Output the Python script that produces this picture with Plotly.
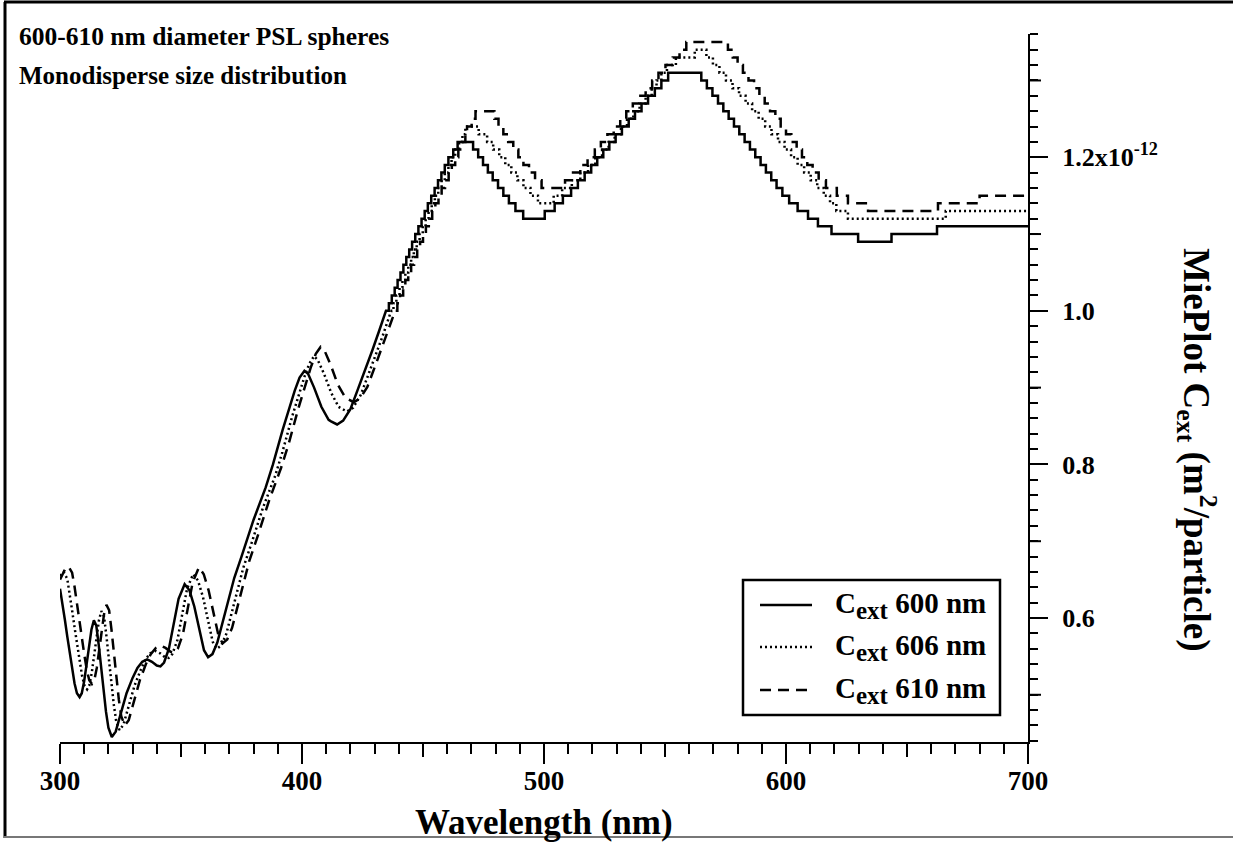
import plotly.graph_objects as go

# ---------------- data (values in units of 1e-12 m^2) ----------------
# smooth part (below 1.0e-12, three significant digits -> smooth)
x600_smooth = [300, 301, 302, 303, 304, 305, 306, 307, 308.1, 309, 310, 311, 312, 313, 314, 315, 316, 317, 318, 319,
               320, 321.4, 323, 325, 327.5, 330, 332, 334, 336, 338, 340, 341.5, 343, 345, 347, 349, 351.5, 353.5,
               355.5, 357.5, 359.5, 361.2, 363, 365, 367, 369, 372, 375, 380, 385, 388, 392, 395, 397, 399, 401,
               402.5, 405, 408, 411, 412, 414.5, 417, 420, 423, 426, 429, 432, 434.7]
y600_smooth = [0.638, 0.620, 0.598, 0.576, 0.555, 0.533, 0.515, 0.502, 0.497, 0.502, 0.518, 0.540, 0.563, 0.585,
               0.597, 0.590, 0.565, 0.535, 0.503, 0.478, 0.457, 0.445, 0.452, 0.475, 0.502, 0.522, 0.535, 0.543,
               0.546, 0.543, 0.538, 0.537, 0.542, 0.560, 0.592, 0.625, 0.644, 0.636, 0.615, 0.585, 0.558, 0.549,
               0.553, 0.568, 0.592, 0.617, 0.652, 0.680, 0.728, 0.770, 0.800, 0.845, 0.876, 0.896, 0.913, 0.922,
               0.918, 0.900, 0.875, 0.858, 0.856, 0.852, 0.857, 0.872, 0.897, 0.922, 0.948, 0.975, 0.998]

x606_smooth = [300, 301.5, 303, 304, 305, 306, 307, 308, 309.1, 310.1, 311.2, 312.1, 313.1, 314.1, 315.1, 316.1,
               317.1, 318.2, 319.2, 320.2, 321.2, 322.2, 323.2, 324.6, 326.2, 328.3, 330.8, 333.3, 335.3, 337.3,
               339.4, 341.4, 343.4, 344.9, 346.4, 348.5, 350.5, 352.5, 355, 357, 359.1, 361.1, 363.1, 364.8, 366.6,
               368.7, 370.7, 372.7, 375.7, 378.8, 383.8, 388.9, 391.9, 395.9, 399, 401, 403, 405, 406.5, 409.1,
               412.1, 415.1, 416.1, 418.6, 421.2, 424.2, 427.2, 430.3, 433.3, 436.3]
y606_smooth = [0.655, 0.660, 0.651, 0.632, 0.610, 0.588, 0.566, 0.544, 0.525, 0.512, 0.507, 0.512, 0.528, 0.551,
               0.574, 0.597, 0.609, 0.602, 0.576, 0.546, 0.513, 0.488, 0.466, 0.454, 0.461, 0.485, 0.512, 0.532,
               0.546, 0.554, 0.557, 0.554, 0.549, 0.548, 0.553, 0.571, 0.604, 0.638, 0.657, 0.649, 0.627, 0.597,
               0.569, 0.560, 0.564, 0.579, 0.604, 0.629, 0.665, 0.694, 0.743, 0.785, 0.816, 0.862, 0.894, 0.914,
               0.931, 0.941, 0.936, 0.918, 0.893, 0.875, 0.873, 0.869, 0.874, 0.890, 0.915, 0.941, 0.967, 0.995]

x610_smooth = [300, 302, 303.5, 305, 306, 307, 308.1, 309.1, 310.1, 311.1, 312.1, 313.2, 314.2, 315.2, 316.2, 317.2,
               318.2, 319.2, 320.3, 321.3, 322.3, 323.3, 324.3, 325.3, 326.8, 328.4, 330.4, 333, 335.5, 337.5,
               339.6, 341.6, 343.6, 345.7, 347.2, 348.7, 350.8, 352.8, 354.8, 357.4, 359.4, 361.4, 363.5, 365.5,
               367.2, 369.1, 371.1, 373.1, 375.2, 378.2, 381.3, 386.3, 391.4, 394.5, 398.5, 401.6, 403.6, 405.7,
               407.7, 409.2, 411.8, 414.8, 417.9, 418.9, 421.4, 424, 427, 430.1, 433.1, 436.2, 438.2]
y610_smooth = [0.650, 0.663, 0.667, 0.659, 0.641, 0.618, 0.595, 0.574, 0.551, 0.532, 0.519, 0.514, 0.519, 0.535,
               0.558, 0.582, 0.605, 0.617, 0.610, 0.584, 0.553, 0.520, 0.494, 0.472, 0.460, 0.467, 0.491, 0.519,
               0.540, 0.553, 0.561, 0.564, 0.561, 0.556, 0.555, 0.560, 0.579, 0.612, 0.646, 0.666, 0.657, 0.636,
               0.605, 0.577, 0.567, 0.572, 0.587, 0.612, 0.638, 0.674, 0.703, 0.752, 0.796, 0.827, 0.873, 0.905,
               0.926, 0.944, 0.953, 0.949, 0.930, 0.904, 0.887, 0.885, 0.881, 0.886, 0.901, 0.927, 0.953, 0.980,
               0.997]

# stepped part (above 1.0e-12 the MiePlot output is rounded to 0.01e-12): wavelength where each level starts
x600_steps = [434.7, 435.9, 437.1, 438.3, 439.5, 440.7, 441.9, 443.1, 444.3, 445.5, 446.8, 448.1, 449.4, 450.7,
              452.0, 453.4, 454.8, 456.2, 457.6, 459.0, 460.5, 462.5, 464.3,
              470.7, 472.8, 474.8, 476.8, 478.8, 481.0, 483.2, 485.5, 488.2, 491.4,
              500.3, 504.4, 507.8, 511.2, 514.0, 516.8, 519.5, 522.0, 524.5, 527.0, 529.6, 532.2, 535.0, 537.6,
              540.3, 543.0, 545.8, 548.5, 551.3,
              565.0, 567.3, 569.6, 571.9, 574.1, 576.3, 578.5, 580.7, 582.9, 585.1, 587.3, 589.5, 591.7, 593.9,
              596.1, 598.5, 601.3, 604.8, 609.1, 613.2, 618.8, 629.8, 643.6, 662.4]
y600_steps = [1.00, 1.01, 1.02, 1.03, 1.04, 1.05, 1.06, 1.07, 1.08, 1.09, 1.10, 1.11, 1.12, 1.13,
              1.14, 1.15, 1.16, 1.17, 1.18, 1.19, 1.20, 1.21, 1.22,
              1.21, 1.20, 1.19, 1.18, 1.17, 1.16, 1.15, 1.14, 1.13, 1.12,
              1.13, 1.14, 1.15, 1.16, 1.17, 1.18, 1.19, 1.20, 1.21, 1.22, 1.23, 1.24, 1.25, 1.26,
              1.27, 1.28, 1.29, 1.30, 1.31,
              1.30, 1.29, 1.28, 1.27, 1.26, 1.25, 1.24, 1.23, 1.22, 1.21, 1.20, 1.19, 1.18, 1.17,
              1.16, 1.15, 1.14, 1.13, 1.12, 1.11, 1.10, 1.09, 1.10, 1.11]

x606_steps = [437.0, 437.8, 439.0, 440.3, 441.5, 442.7, 443.9, 445.1, 446.2, 447.4, 448.6, 449.9, 451.1, 452.3,
              453.6, 454.9, 456.3, 457.7, 459.0, 460.5, 461.8, 463.3, 464.9, 466.3, 467.5,
              473.0, 476.5, 479.0, 481.5, 484.0, 486.5, 489.0, 491.5, 494.4, 497.5,
              504.0, 507.5, 511.5, 515.0, 518.2, 521.2, 524.0, 526.7, 529.2, 531.8, 534.3, 536.9, 539.5, 542.0,
              544.5, 546.5, 548.5, 550.8, 554.5, 562.3,
              567.1, 569.8, 572.5, 575.2, 577.9, 580.6, 583.3, 586.0, 588.7, 591.4, 594.0, 596.7, 599.4, 602.1,
              604.8, 607.5, 610.2, 612.9, 615.6, 618.2, 620.8, 625.6, 666.0]
y606_steps = [1.00, 1.01, 1.02, 1.03, 1.04, 1.05, 1.06, 1.07, 1.08, 1.09, 1.10, 1.11, 1.12, 1.13,
              1.14, 1.15, 1.16, 1.17, 1.18, 1.19, 1.20, 1.21, 1.22, 1.23, 1.24,
              1.23, 1.22, 1.21, 1.20, 1.19, 1.18, 1.17, 1.16, 1.15, 1.14,
              1.15, 1.16, 1.17, 1.18, 1.19, 1.20, 1.21, 1.22, 1.23, 1.24, 1.25, 1.26, 1.27, 1.28,
              1.29, 1.30, 1.31, 1.32, 1.33, 1.34,
              1.33, 1.32, 1.31, 1.30, 1.29, 1.28, 1.27, 1.26, 1.25, 1.24, 1.23, 1.22, 1.21, 1.20,
              1.19, 1.18, 1.17, 1.16, 1.15, 1.14, 1.13, 1.12, 1.13]

x610_steps = [438.5, 439.4, 440.5, 441.8, 442.7, 443.9, 445.1, 446.3, 447.6, 448.8, 450.0, 451.2, 452.4, 453.8,
              455.1, 456.4, 457.7, 459.1, 460.6, 461.9, 463.3, 464.6, 466.1, 467.5, 468.2, 470.1, 471.7,
              479.5, 481.2, 483.2, 485.2, 487.3, 489.4, 491.5, 493.8, 496.3, 499.0,
              508.7, 512.0, 515.0, 518.0, 521.0, 523.5, 526.2, 528.8, 531.5, 534.0, 536.7, 539.3, 542.0, 544.7,
              547.3, 550.2, 553.2, 556.0, 558.8,
              576.0, 578.0, 580.0, 582.2, 584.5, 586.8, 589.0, 591.2, 593.4, 595.6, 597.8, 600.0, 602.2, 604.4,
              606.6, 608.8, 611.0, 613.5, 616.5, 621.0, 625.6, 633.9, 662.8, 680.0]
y610_steps = [1.00, 1.01, 1.02, 1.03, 1.04, 1.05, 1.06, 1.07, 1.08, 1.09, 1.10, 1.11, 1.12, 1.13,
              1.14, 1.15, 1.16, 1.17, 1.18, 1.19, 1.20, 1.21, 1.22, 1.23, 1.24, 1.25, 1.26,
              1.25, 1.24, 1.23, 1.22, 1.21, 1.20, 1.19, 1.18, 1.17, 1.16,
              1.17, 1.18, 1.19, 1.20, 1.21, 1.22, 1.23, 1.24, 1.25, 1.26, 1.27, 1.28, 1.29, 1.30,
              1.31, 1.32, 1.33, 1.34, 1.35,
              1.34, 1.33, 1.32, 1.31, 1.30, 1.29, 1.28, 1.27, 1.26, 1.25, 1.24, 1.23, 1.22, 1.21,
              1.20, 1.19, 1.18, 1.17, 1.16, 1.15, 1.14, 1.13, 1.14, 1.15]

series_labels = ["600 nm", "606 nm", "610 nm"]
x_ticks = [300, 400, 500, 600, 700]
y_tick_vals = [0.6, 0.8, 1.0, 1.2]
y_tick_text = ["0.6", "0.8", "1.0", "1.2x10<sup>-12</sup>"]
X_END = 700

# ---------------- helpers ----------------
def build(xs, ys, sx, sy):
    X, Y = list(xs), list(ys)
    prev = None
    for x, v in zip(sx, sy):
        if prev is not None:
            X.append(x); Y.append(prev)
        X.append(x); Y.append(v)
        prev = v
    X.append(X_END); Y.append(prev)
    return X, Y

FONT = "Liberation Serif"
DASHES = ["solid", "2px,3px", "11px,7px"]
LW = 2.5

fig = go.Figure()
data = [(x600_smooth, y600_smooth, x600_steps, y600_steps),
        (x606_smooth, y606_smooth, x606_steps, y606_steps),
        (x610_smooth, y610_smooth, x610_steps, y610_steps)]
for (xs, ys, sx, sy), lab, dash in zip(data, series_labels, DASHES):
    X, Y = build(xs, ys, sx, sy)
    fig.add_trace(go.Scatter(x=X, y=Y, mode="lines", name="C<sub>ext</sub> " + lab, showlegend=False,
                             line=dict(color="black", width=LW, dash=dash)))

# plot geometry in pixels
W, H = 1233, 845
L, R, T, B = 60, 205, 34, 103
PW, PH = W - L - R, H - T - B

def px(xp):
    return (xp - L) / PW

def py(yp):
    return (H - B - yp) / PH

shapes = []
# medium ticks
for xv in [350, 450, 550, 650]:
    shapes.append(dict(type="line", xref="x", yref="paper", x0=xv, x1=xv, y0=0, y1=-15 / PH,
                       line=dict(color="black", width=2)))
for yv in [0.5, 0.7, 0.9, 1.1, 1.3]:
    shapes.append(dict(type="line", xref="paper", yref="y", x0=1, x1=1 + 13 / PW, y0=yv, y1=yv,
                       line=dict(color="black", width=2)))
# outer frame (left, top, bottom)
shapes.append(dict(type="line", xref="paper", yref="paper", x0=px(5), x1=px(5), y0=py(838), y1=py(2),
                   line=dict(color="black", width=3)))
shapes.append(dict(type="line", xref="paper", yref="paper", x0=px(4), x1=px(1233), y0=py(2), y1=py(2),
                   line=dict(color="black", width=3)))
shapes.append(dict(type="line", xref="paper", yref="paper", x0=px(4), x1=px(1233), y0=py(837), y1=py(837),
                   line=dict(color="#777777", width=2)))
# legend box
shapes.append(dict(type="rect", xref="paper", yref="paper", x0=px(743), x1=px(1000), y0=py(715), y1=py(580),
                   line=dict(color="black", width=2.5), fillcolor="white", layer="above"))
leg_y = [605, 647, 690]
annotations = []
for yy, lab, dash in zip(leg_y, series_labels, DASHES):
    shapes.append(dict(type="line", xref="paper", yref="paper", x0=px(760), x1=px(812), y0=py(yy), y1=py(yy),
                       line=dict(color="black", width=LW, dash=dash), layer="above"))
    annotations.append(dict(xref="paper", yref="paper", x=px(833), y=py(yy), xanchor="left", yanchor="middle",
                            text="C<sub><span style='font-size:25px'>ext</span></sub> " + lab, showarrow=False,
                            font=dict(family=FONT, size=29, color="black", weight="bold")))

# titles
annotations.append(dict(xref="paper", yref="paper", x=px(17), y=py(36), xanchor="left", yanchor="middle",
                        text="600-610 nm diameter PSL spheres", showarrow=False,
                        font=dict(family=FONT, size=25.5, color="black", weight="bold")))
annotations.append(dict(xref="paper", yref="paper", x=px(17), y=py(75), xanchor="left", yanchor="middle",
                        text="Monodisperse size distribution", showarrow=False,
                        font=dict(family=FONT, size=25, color="black", weight="bold")))
annotations.append(dict(xref="paper", yref="paper", x=0.5, y=py(823), xanchor="center", yanchor="middle",
                        text="Wavelength (nm)", showarrow=False,
                        font=dict(family=FONT, size=35, color="black", weight="bold")))
annotations.append(dict(xref="paper", yref="paper", x=px(1197), y=py(450), xanchor="center", yanchor="middle",
                        text="MiePlot C<sub>ext</sub> (m<sup>2</sup>/particle)", showarrow=False, textangle=90,
                        font=dict(family=FONT, size=37, color="black", weight="bold")))

fig.update_layout(
    width=W, height=H,
    margin=dict(l=L, r=R, t=T, b=B),
    paper_bgcolor="white", plot_bgcolor="white",
    showlegend=False,
    shapes=shapes, annotations=annotations,
    xaxis=dict(range=[300, 700], tickvals=x_ticks, ticks="outside", ticklen=20, tickwidth=2,
               tickcolor="black", showline=True, linewidth=2, linecolor="black", showgrid=False,
               zeroline=False, mirror=False, ticklabelstandoff=-6,
               tickfont=dict(family=FONT, size=27, color="black", weight="bold"),
               minor=dict(dtick=10, tick0=300, ticks="outside", ticklen=10, tickwidth=2, tickcolor="black",
                          showgrid=False)),
    yaxis=dict(range=[0.4385, 1.3605], side="right", tickvals=y_tick_vals, ticktext=y_tick_text,
               ticks="outside", ticklen=18, tickwidth=2, tickcolor="black",
               showline=True, linewidth=2, linecolor="black", showgrid=False, zeroline=False,
               ticklabelstandoff=9,
               tickfont=dict(family=FONT, size=26, color="black", weight="bold"),
               minor=dict(dtick=0.02, tick0=0, ticks="outside", ticklen=8, tickwidth=2, tickcolor="black",
                          showgrid=False)),
)

fig.write_html("out.html", config={"displayModeBar": False},
               post_script="document.body.style.margin='0px';document.body.style.padding='0px';")
